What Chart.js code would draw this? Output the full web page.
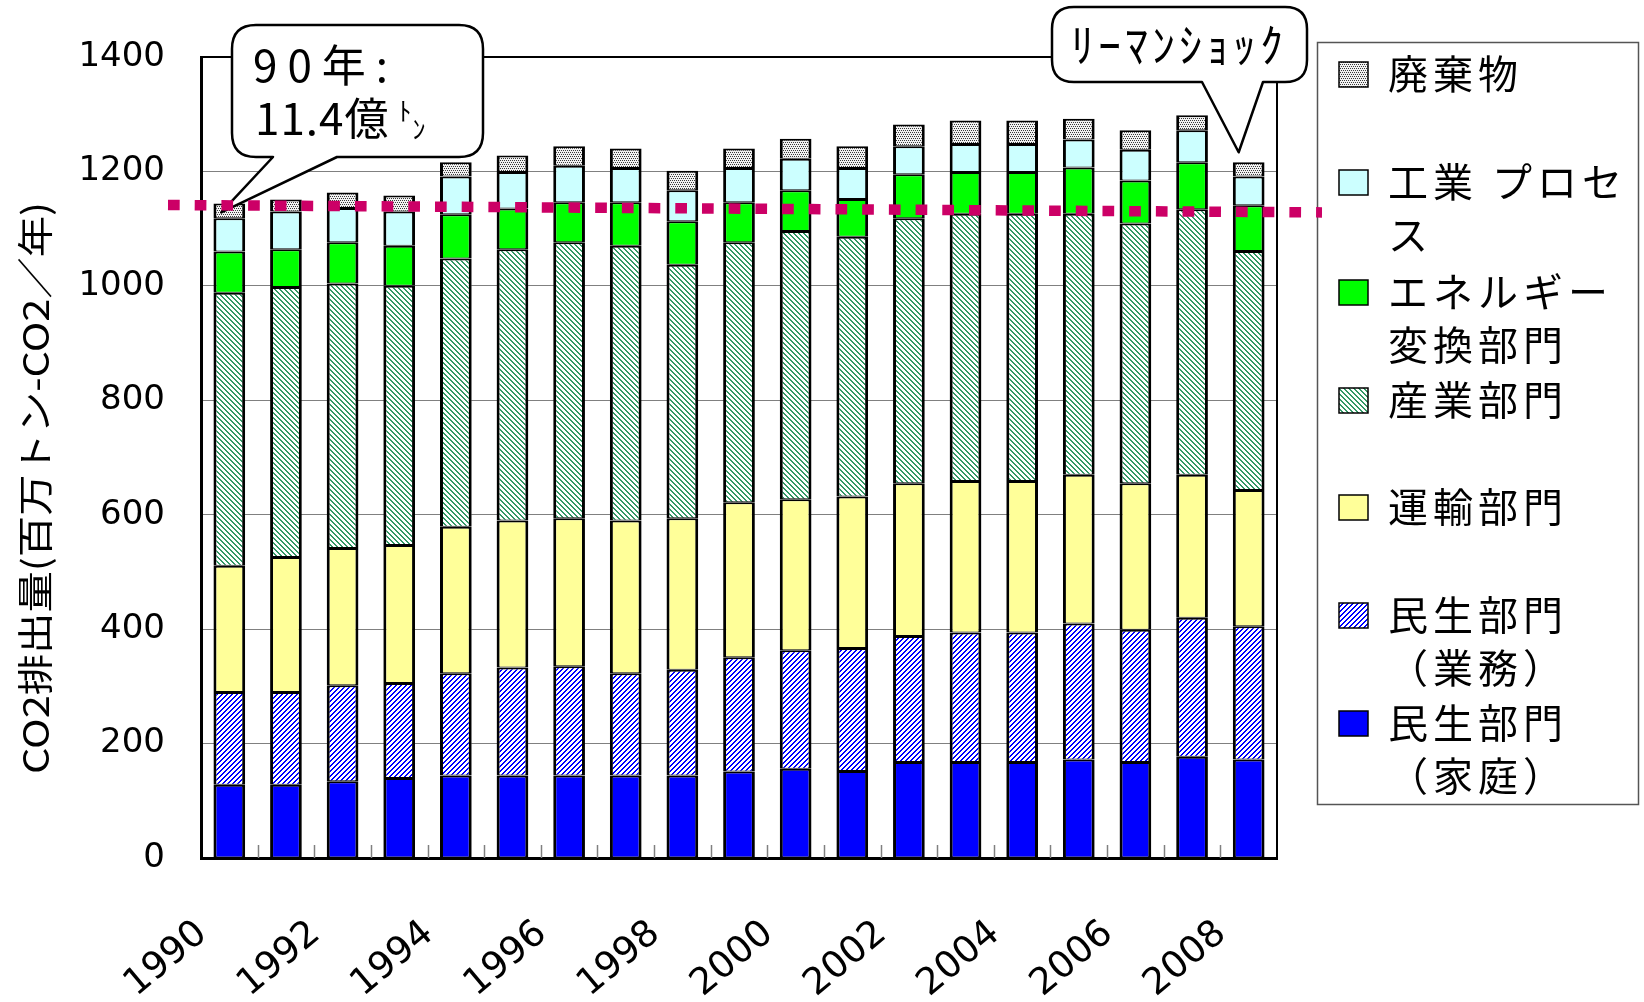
<!DOCTYPE html>
<html lang="ja">
<head>
<meta charset="utf-8">
<title>部門別CO2排出量の推移</title>
<script src="https://cdn.jsdelivr.net/npm/chart.js@4.4.1/dist/chart.umd.min.js"></script>
<style>
  html, body { margin: 0; padding: 0; background: #fff; }
  canvas { display: block; }
</style>
</head>
<body>
<canvas id="co2" width="1644" height="1002"></canvas>
<script>
// 年度（横軸）
const years = ['1990','1991','1992','1993','1994','1995','1996','1997','1998','1999',
               '2000','2001','2002','2003','2004','2005','2006','2007','2008'];

// 部門別排出量（百万トン-CO2／年）
const household  = [128,128,134,140,144,144,144,144,144,151,156,152,168,168,168,172,168,177,172];
const commercial = [162,162,168,166,179,189,191,179,185,200,207,215,220,226,226,238,231,243,233];
const transport  = [221,236,240,241,256,257,259,267,265,271,264,265,267,265,265,260,256,250,238];
const industry   = [477,472,462,453,469,474,482,480,443,454,469,454,463,467,467,456,454,464,418];
const energy     = [ 72, 66, 72, 70, 77, 71, 70, 76, 76, 70, 71, 66, 77, 73, 73, 81, 75, 82, 80];
const process    = [ 58, 66, 60, 60, 66, 64, 64, 60, 54, 60, 55, 54, 49, 49, 49, 49, 54, 56, 50];
const waste      = [ 26, 21, 27, 28, 25, 29, 34, 34, 34, 34, 35, 38, 38, 41, 41, 36, 34, 26, 25];

// 縦軸目盛
const yMin = 0, yMax = 1400, yStep = 200;

// 系列名（凡例の改行位置つき）
const seriesNames = [
  ['民生部門', '（家庭）'],
  ['民生部門', '（業務）'],
  ['運輸部門'],
  ['産業部門'],
  ['エネルギー', '変換部門'],
  ['工業 プロセ', 'ス'],
  ['廃棄物']
];

// 90年水準の点線（左端・右端の値）
const level1990 = [1144, 1131];

// 吹き出し・軸タイトル
const yTitle = 'CO2排出量(百万トン-CO2／年)';
const note1990 = ['90年:', '11.4億', 'ﾄ', 'ﾝ'];
const noteLehman = 'ﾘｰﾏﾝｼｮｯｸ';

const JP = '"Noto Sans CJK JP", "Noto Sans", sans-serif';
const NUM = '"DejaVu Sans", sans-serif';

// ---- 塗りパターン ----
function stripe(color, dir, n, w) {
  const c = document.createElement('canvas');
  c.width = n; c.height = n;
  const g = c.getContext('2d');
  g.fillStyle = '#fff';
  g.fillRect(0, 0, n, n);
  g.fillStyle = color;
  for (let y = 0; y < n; y++) {
    for (let x = 0; x < n; x++) {
      const k = dir === '/' ? (x + y) % n : ((x - y) % n + n) % n;
      if (k < w) g.fillRect(x, y, 1, 1);
    }
  }
  return g.createPattern(c, 'repeat');
}
function stipple() {
  const c = document.createElement('canvas');
  c.width = 4; c.height = 4;
  const g = c.getContext('2d');
  g.fillStyle = '#f2f2f2';
  g.fillRect(0, 0, 4, 4);
  g.fillStyle = '#3a3a3a';
  [[0,0],[2,0],[1,2],[3,2]].forEach(([x, y]) => g.fillRect(x, y, 1, 1));
  return g.createPattern(c, 'repeat');
}

const fills = [
  '#0000ff',
  stripe('#0000ff', '/', 5, 2),
  '#ffff99',
  stripe('#339966', '\\', 5, 2),
  '#00ff00',
  '#ccffff',
  stipple()
];
const values = [household, commercial, transport, industry, energy, process, waste];

const datasets = values.map((v, i) => ({
  label: seriesNames[i].join(''),
  data: v,
  backgroundColor: fills[i],
  borderColor: '#000',
  borderWidth: { top: 2, bottom: 1, left: 3, right: 3 },
  borderSkipped: false,
  barPercentage: 0.56,
  categoryPercentage: 1
}));

// ---- 描画補助 ----
function spaced(ctx, str, x, y, gap) {
  let cx = x;
  for (const ch of str) {
    ctx.fillText(ch, cx, y);
    cx += ctx.measureText(ch).width + gap;
  }
  return cx - gap;
}
function spacedWidth(ctx, str, gap) {
  let w = 0, n = 0;
  for (const ch of str) { w += ctx.measureText(ch).width; n++; }
  return w + gap * Math.max(0, n - 1);
}
function bubble(ctx, x0, y0, x1, y1, r, baseL, baseR, tip) {
  ctx.beginPath();
  ctx.moveTo(x0 + r, y0);
  ctx.lineTo(x1 - r, y0);
  ctx.quadraticCurveTo(x1, y0, x1, y0 + r);
  ctx.lineTo(x1, y1 - r);
  ctx.quadraticCurveTo(x1, y1, x1 - r, y1);
  ctx.lineTo(baseR, y1);
  ctx.lineTo(tip[0], tip[1]);
  ctx.lineTo(baseL, y1);
  ctx.lineTo(x0 + r, y1);
  ctx.quadraticCurveTo(x0, y1, x0, y1 - r);
  ctx.lineTo(x0, y0 + r);
  ctx.quadraticCurveTo(x0, y0, x0 + r, y0);
  ctx.closePath();
  ctx.fillStyle = '#fff';
  ctx.fill();
  ctx.lineWidth = 2.5;
  ctx.strokeStyle = '#000';
  ctx.lineJoin = 'round';
  ctx.stroke();
}

const decorations = {
  id: 'decorations',
  beforeDraw(chart) {
    const ctx = chart.ctx;
    ctx.save();
    ctx.fillStyle = '#fff';
    ctx.fillRect(0, 0, chart.width, chart.height);
    ctx.restore();
  },
  beforeDatasetsDraw(chart) {
    // 区切り目盛（内向き）
    const { ctx, chartArea: a, scales: { x } } = chart;
    const step = x.getPixelForValue(1) - x.getPixelForValue(0);
    ctx.save();
    ctx.strokeStyle = '#808080';
    ctx.lineWidth = 1.5;
    for (let i = 1; i < years.length; i++) {
      const bx = Math.round(x.getPixelForValue(i) - step / 2) + 0.5;
      ctx.beginPath();
      ctx.moveTo(bx, a.bottom);
      ctx.lineTo(bx, a.bottom - 13);
      ctx.stroke();
    }
    ctx.restore();
  },
  afterDatasetsDraw(chart) {
    // プロットエリアの上辺・右辺
    const { ctx, chartArea: a } = chart;
    ctx.save();
    ctx.strokeStyle = '#000';
    ctx.lineWidth = 2;
    ctx.beginPath();
    ctx.moveTo(a.left, a.top);
    ctx.lineTo(a.right, a.top);
    ctx.lineTo(a.right, a.bottom);
    ctx.stroke();
    ctx.restore();
  },
  afterDraw(chart) {
    const { ctx, scales: { x, y } } = chart;
    const totals = years.map((_, i) => values.reduce((s, v) => s + v[i], 0));

    // 縦軸タイトル
    ctx.save();
    ctx.font = '36px ' + JP;
    ctx.fillStyle = '#000';
    ctx.textAlign = 'center';
    ctx.textBaseline = 'middle';
    const tw = ctx.measureText(yTitle).width;
    ctx.translate(35, 488);
    ctx.rotate(-Math.PI / 2);
    ctx.scale(572 / tw, 1);
    ctx.fillText(yTitle, 0, 0);
    ctx.restore();

    // 凡例
    ctx.save();
    ctx.fillStyle = '#fff';
    ctx.fillRect(1317, 42, 322, 763);
    ctx.strokeStyle = '#555';
    ctx.lineWidth = 1.5;
    ctx.strokeRect(1317.5, 42.5, 321, 762);
    const rows = [74, 182, 292, 400, 507, 615, 723];
    const order = [6, 5, 4, 3, 2, 1, 0];
    ctx.font = '40px ' + JP;
    ctx.textBaseline = 'middle';
    order.forEach((di, k) => {
      const cy = rows[k];
      ctx.fillStyle = fills[di];
      ctx.fillRect(1339, cy - 12, 29, 25);
      ctx.strokeStyle = '#000';
      ctx.lineWidth = 1.5;
      ctx.strokeRect(1339, cy - 12, 29, 25);
      ctx.fillStyle = '#000';
      seriesNames[di].forEach((line, j) => spaced(ctx, line, 1388, cy + j * 53, 5));
    });
    ctx.restore();

    // 吹き出し（1990年）
    const tip1 = [x.getPixelForValue(0) - 8, y.getPixelForValue(totals[0]) + 9];
    ctx.save();
    bubble(ctx, 232, 25, 483, 157, 24, 273, 337, tip1);
    ctx.fillStyle = '#000';
    ctx.textBaseline = 'alphabetic';
    ctx.font = '44px ' + JP;
    spaced(ctx, note1990[0], 253, 82, 10);
    const e2 = spaced(ctx, note1990[1], 255, 135, 1);
    ctx.font = '26px ' + JP;
    ctx.fillText(note1990[2], e2 + 10, 121);
    ctx.fillText(note1990[3], e2 + 24, 139);
    ctx.restore();

    // 吹き出し（2008年）
    const last = years.length - 1;
    const tip2 = [x.getPixelForValue(last) - 10, y.getPixelForValue(totals[last]) - 10];
    ctx.save();
    bubble(ctx, 1052, 7, 1307, 82, 22, 1202, 1263, tip2);
    ctx.fillStyle = '#000';
    ctx.font = '46px ' + JP;
    ctx.textBaseline = 'middle';
    const lw = spacedWidth(ctx, noteLehman, 4);
    spaced(ctx, noteLehman, 1177 - lw / 2, 45, 4);
    ctx.restore();

    // 90年水準の点線
    ctx.save();
    ctx.strokeStyle = '#cc0066';
    ctx.lineWidth = 10.5;
    ctx.setLineDash([11.7, 15]);
    ctx.beginPath();
    ctx.moveTo(168, y.getPixelForValue(level1990[0]) + 1.5);
    ctx.lineTo(1322, y.getPixelForValue(level1990[1]) + 1.5);
    ctx.stroke();
    ctx.restore();
  }
};

new Chart(document.getElementById('co2'), {
  type: 'bar',
  data: { labels: years, datasets },
  options: {
    responsive: false,
    animation: false,
    devicePixelRatio: 1,
    layout: { padding: { top: 57, right: 367, left: 0, bottom: 0 } },
    plugins: {
      legend: { display: false },
      tooltip: { enabled: false },
      title: { display: false }
    },
    scales: {
      x: {
        stacked: true,
        offset: true,
        grid: { display: false, drawTicks: false },
        border: { display: true, color: '#000', width: 3 },
        ticks: {
          autoSkip: false,
          minRotation: 40,
          maxRotation: 40,
          padding: 54,
          labelOffset: -27,
          color: '#000',
          font: { family: NUM, size: 37 },
          callback: (v, i) => (i % 2 === 0 ? years[i] : '')
        },
        afterFit: (s) => { s.height = 144; }
      },
      y: {
        stacked: true,
        min: yMin,
        max: yMax,
        grid: { color: '#808080', lineWidth: 1, drawTicks: false },
        border: { display: true, color: '#000', width: 3 },
        ticks: {
          stepSize: yStep,
          padding: 36,
          color: '#000',
          font: { family: NUM, size: 34 },
          callback: (v) => String(v)
        },
        afterFit: (s) => { s.width = 201; }
      }
    }
  },
  plugins: [decorations]
});
</script>
</body>
</html>
